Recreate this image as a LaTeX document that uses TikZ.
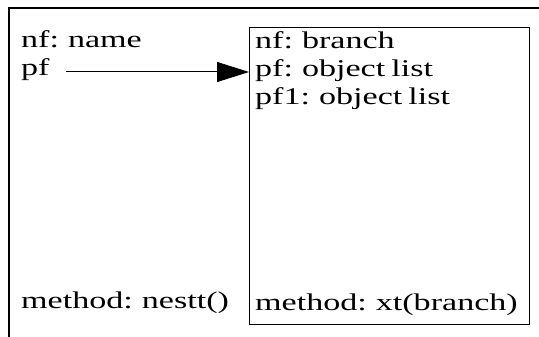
\documentclass[tikz,border=0pt]{standalone}
\usepackage{fontspec}
\setmainfont{Liberation Serif}[FakeStretch=1.42, WordSpace=0.72]
\usetikzlibrary{positioning, arrows.meta}

\begin{document}
\begin{tikzpicture}[
  x=1pt, y=-1pt,
  field/.style={anchor=base west, inner sep=0pt, font=\fontsize{24}{28}\selectfont},
  frame/.style={draw, line width=1pt, inner sep=0pt, anchor=north west}
]
\useasboundingbox (0,0) rectangle (539,337);

% outer object (only left and top edges visible)
\draw[line width=1.2pt] (9,337) -- (9,8) -- (539,8);

\node (nfname) [field] at (21,48) {nf: name};
\node (pf) [field] at (21,76) {pf};
\node (nestt) [field] at (21,308) {method: nestt()};

% branch object
\node (branchbox) [frame, minimum width=280pt, minimum height=297pt] at (249,27) {};
\node (nfbranch) [field] at (255,49) {nf: branch};
\node (pfb) [field] at (255,77) {pf: object list};
\node (pfone) [field] at (255,105) {pf1: object list};
\node (xt) [field] at (255,310) {method: xt(branch)};

\coordinate (tip) at (branchbox.west |- 0,72);
\draw[-{Triangle[length=32pt, width=20pt]}, line width=1pt] ([xshift=16pt]pf.east |- tip) -- (tip);
\end{tikzpicture}
\end{document}
